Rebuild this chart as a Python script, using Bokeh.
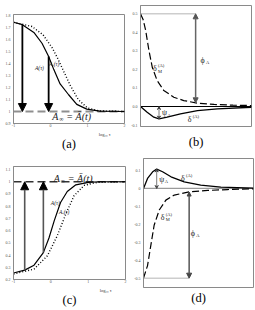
from bokeh.plotting import figure
from bokeh.layouts import column, row
from bokeh.models import Arrow, NormalHead, VeeHead, Label, Range1d, FixedTicker, Title
from bokeh.embed import file_html
from bokeh.resources import INLINE

SERIF = "Liberation Serif"

# ---------------- data ----------------
# panel (a): relaxation of A
tau_a = [-1, -0.76, -0.45, -0.23, -0.05, 0.09, 0.26, 0.49, 0.71, 0.98, 1.33, 2.0]
A_a = [1.745, 1.725, 1.66, 1.57, 1.46, 1.35, 1.23, 1.14, 1.06, 1.02, 1.003, 1.0]
tau_ar_a = [-1, -0.5, -0.2, 0.05, 0.2, 0.35, 0.53, 0.75, 1.0, 1.3, 2.0]
AR_a = [1.745, 1.71, 1.64, 1.53, 1.44, 1.34, 1.22, 1.10, 1.03, 1.005, 1.0]
A_inf_a = 1.0
arrow_x_a = [-0.76, -0.05]
arrow_y_a = [1.725, 1.46]

# panel (c)
tau_c = [-1, -0.7, -0.45, -0.2, -0.05, 0.09, 0.26, 0.44, 0.67, 1.0, 1.33, 2.0]
A_c = [0.253, 0.277, 0.317, 0.42, 0.54, 0.68, 0.83, 0.92, 0.975, 0.995, 1.0, 1.0]
tau_ar_c = [-1, -0.45, -0.09, 0.175, 0.40, 0.62, 0.89, 1.24, 2.0]
AR_c = [0.245, 0.285, 0.395, 0.56, 0.735, 0.885, 0.97, 0.995, 1.0]
A_inf_c = 1.0
arrow_x_c = [-0.7, -0.2]
arrow_y_c = [0.277, 0.42]

# panel (b)
tau_bm = [-1, -0.93, -0.86, -0.77, -0.68, -0.55, -0.37, -0.1, 0.17, 0.54, 0.99, 1.5, 2.0]
dM_b = [0.5, 0.47, 0.41, 0.30, 0.21, 0.14, 0.086, 0.05, 0.032, 0.018, 0.011, 0.007, 0.005]
tau_bd = [-1, -0.82, -0.64, -0.5, -0.28, 0.08, 0.54, 1.08, 2.0]
d_b = [0, -0.031, -0.058, -0.067, -0.058, -0.04, -0.022, -0.013, -0.004]
phi_b = [0.49, 0.5, 0.02]     # x, top, bottom
psi_b = [-0.5, 0.0, -0.067]

# panel (d)
tau_dd = [-1, -0.89, -0.75, -0.64, -0.48, -0.25, 0.11, 0.56, 1.11, 2.0]
d_d = [0, 0.056, 0.093, 0.108, 0.093, 0.065, 0.037, 0.019, 0.007, 0.002]
tau_dm = [-1, -0.89, -0.8, -0.71, -0.57, -0.39, -0.16, 0.25, 0.75, 1.29, 2.0]
dM_d = [-0.5, -0.43, -0.317, -0.205, -0.12, -0.065, -0.037, -0.019, -0.011, -0.006, -0.002]
phi_d = [0.245, -0.02, -0.5]
psi_d = [-0.64, 0.0, 0.108]

x_ticks = [-1, 0, 1, 2]
x_tick_labels = ["-1", "0", "1", "2"]
y_ticks_a = [0.9, 1.0, 1.1, 1.2, 1.3, 1.4, 1.5, 1.6, 1.7, 1.8]
y_ticks_c = [0.2, 0.3, 0.4, 0.5, 0.6, 0.7, 0.8, 0.9, 1.0, 1.1]
y_ticks_b = [-0.1, 0.0, 0.1, 0.2, 0.3, 0.4, 0.5]
y_labels_b = ["-0.1", "0.0", "0.1", "0.2", "0.3", "0.4", "0.5"]
y_ticks_d = [-0.5, -0.4, -0.3, -0.2, -0.1, 0.0, 0.1]
y_labels_d = ["-0.5", "-0.4", "-0.3", "-0.2", "-0.1", "0", "0.1"]
panel_names = ["(a)", "(b)", "(c)", "(d)"]
x_title = "log₁₀ τ"


def make_fig(xr, yr, fw, fh, left, right, top, bottom):
    p = figure(frame_width=fw, frame_height=fh, title=None,
               x_range=Range1d(*xr), y_range=Range1d(*yr),
               output_backend="svg", toolbar_location=None,
               min_border_left=left, min_border_right=right,
               min_border_top=top, min_border_bottom=bottom)
    p.grid.visible = False
    p.outline_line_color = "#8a8a8a"
    p.outline_line_width = 1
    p.background_fill_color = "white"
    p.border_fill_color = "white"
    for ax in p.axis:
        ax.axis_line_color = "#8a8a8a"
        ax.major_tick_line_color = None
        ax.minor_tick_line_color = None
        ax.major_tick_out = 0
        ax.major_tick_in = 0
        ax.major_label_text_font = SERIF
        ax.major_label_text_font_size = "4px"
        ax.major_label_text_color = "#555555"
        ax.major_label_standoff = 3
    return p


def lbl(p, x, y, text, size, italic=True, dx=0, dy=0, color="#222222", align="left", baseline="middle"):
    p.add_layout(Label(x=x, y=y, text=text, x_offset=dx, y_offset=dy,
                       text_font=SERIF, text_font_size=size,
                       text_font_style="italic" if italic else "normal",
                       text_color=color, text_align=align, text_baseline=baseline))


def delta_label(p, x, y, sub=None):
    lbl(p, x, y, "δ", "8px", italic=False)
    lbl(p, x, y, "(A)", "4.5px", italic=False, dx=5, dy=3)
    if sub:
        lbl(p, x, y, sub, "4.5px", italic=False, dx=5, dy=-2.5)


def greek_sub(p, x, y, g):
    lbl(p, x, y, g, "8px", italic=False)
    lbl(p, x, y, "A", "4.5px", italic=False, dx=5.5, dy=-2.5)


def ainf_label(p, x, y):
    lbl(p, x, y, "A", "10px")
    lbl(p, x, y, "∞", "6px", italic=False, dx=7, dy=-2.5)
    lbl(p, x, y, "= Ā(t)", "10px", dx=14)


def axes_lr(p, yt, ylabels=None, show_x=True):
    p.yaxis.ticker = FixedTicker(ticks=yt)
    if ylabels:
        p.yaxis.major_label_overrides = {t: l for t, l in zip(yt, ylabels)}
    if show_x:
        p.xaxis.ticker = FixedTicker(ticks=x_ticks)
        p.xaxis.major_label_overrides = {t: l for t, l in zip(x_ticks, x_tick_labels)}
        p.xaxis.major_label_standoff = 0
    else:
        p.xaxis.visible = False


def bottom_titles(p, name, with_x_title, standoff):
    if with_x_title:
        p.add_layout(Title(text=x_title, align="right", offset=14, standoff=0,
                           text_font=SERIF, text_font_size="4.5px", text_font_style="normal",
                           text_color="#333333"), "below")
    p.add_layout(Title(text=name, align="center", standoff=standoff,
                       text_font=SERIF, text_font_size="12.5px", text_font_style="normal",
                       text_color="black"), "below")


# ---------------- (a) ----------------
pa = make_fig((-1, 2), (0.9, 1.81), 111, 109, 13, 3, 14, 34)
axes_lr(pa, y_ticks_a)
bottom_titles(pa, panel_names[0], True, -3)
pa.line([-1, 2], [A_inf_a, A_inf_a], line_color="#8f8f8f", line_width=2, line_dash="8 4")
pa.line(tau_ar_a, AR_a, line_color="black", line_width=1.4, line_dash="1 2")
pa.line(tau_a, A_a, line_color="black", line_width=1.2)
for xs, ys in zip(arrow_x_a, arrow_y_a):
    pa.add_layout(Arrow(end=NormalHead(size=8, fill_color="black", line_color="black"),
                        x_start=xs, y_start=ys, x_end=xs, y_end=A_inf_a,
                        line_color="black", line_width=1.8))
lbl(pa, -0.04, 1.40, "Aᵣ(τ)", "5.5px")
lbl(pa, -0.42, 1.36, "A(τ)", "5.5px")
ainf_label(pa, 0.05, 0.962)

# ---------------- (b) ----------------
pb = make_fig((-1, 2), (-0.108, 0.545), 111, 121, 13, 4, 5, 31)
axes_lr(pb, y_ticks_b, y_labels_b, show_x=False)
bottom_titles(pb, panel_names[1], False, 12)
pb.line([-1, 2], [0, 0], line_color="black", line_width=1.1)
pb.line([-1, phi_b[0]], [phi_b[1], phi_b[1]], line_color="#444444", line_width=0.8, line_dash="1 1")
pb.line(tau_bm, dM_b, line_color="black", line_width=1.2, line_dash="7 3")
pb.line(tau_bd, d_b, line_color="black", line_width=1.3)
pb.add_layout(Arrow(start=NormalHead(size=5, fill_color="#555555", line_color="#555555"),
                    end=NormalHead(size=5, fill_color="#555555", line_color="#555555"),
                    x_start=phi_b[0], y_start=phi_b[1], x_end=phi_b[0], y_end=phi_b[2],
                    line_color="#666666", line_width=1.5))
pb.add_layout(Arrow(start=VeeHead(size=3, line_color="#444444", fill_color="#444444"),
                    end=VeeHead(size=3, line_color="#444444", fill_color="#444444"),
                    x_start=psi_b[0], y_start=psi_b[1], x_end=psi_b[0], y_end=psi_b[2],
                    line_color="#444444", line_width=0.7))
delta_label(pb, -0.66, 0.203, "M")
greek_sub(pb, 0.62, 0.25, "ϕ")
greek_sub(pb, -0.42, -0.034, "ψ")
delta_label(pb, 0.28, -0.068)

# ---------------- (c) ----------------
pc = make_fig((-1, 2), (0.2, 1.125), 112, 113, 13, 2, 9, 28)
axes_lr(pc, y_ticks_c)
bottom_titles(pc, panel_names[2], True, -3)
pc.line([-1, 2], [A_inf_c, A_inf_c], line_color="#333333", line_width=1.6, line_dash="8 4")
pc.line(tau_ar_c, AR_c, line_color="black", line_width=1.4, line_dash="1 2")
pc.line(tau_c, A_c, line_color="black", line_width=1.2)
for xs, ys in zip(arrow_x_c, arrow_y_c):
    pc.add_layout(Arrow(end=NormalHead(size=8, fill_color="black", line_color="black"),
                        x_start=xs, y_start=ys, x_end=xs, y_end=A_inf_c,
                        line_color="#555555", line_width=1.6))
lbl(pc, 0.0, 0.83, "A(τ)", "5.5px")
lbl(pc, 0.22, 0.756, "Aᵣ(τ)", "5.5px")
ainf_label(pc, 0.08, 1.03)

# ---------------- (d) ----------------
pd_ = make_fig((-1, 2), (-0.552, 0.167), 110, 129, 16, 2, 1, 20)
axes_lr(pd_, y_ticks_d, y_labels_d, show_x=False)
bottom_titles(pd_, panel_names[3], False, 3)
pd_.line([-1, 2], [0, 0], line_color="#9a9a9a", line_width=1.3)
pd_.line([-1, phi_d[0]], [phi_d[2], phi_d[2]], line_color="#444444", line_width=0.8, line_dash="1 1")
pd_.line(tau_dm, dM_d, line_color="black", line_width=1.2, line_dash="7 3")
pd_.line(tau_dd, d_d, line_color="black", line_width=1.3)
pd_.add_layout(Arrow(start=NormalHead(size=4, fill_color="#444444", line_color="#444444"),
                     end=NormalHead(size=5, fill_color="#444444", line_color="#444444"),
                     x_start=phi_d[0], y_start=phi_d[1], x_end=phi_d[0], y_end=phi_d[2],
                     line_color="#555555", line_width=1.5))
pd_.add_layout(Arrow(start=VeeHead(size=3, line_color="#444444", fill_color="#444444"),
                     end=VeeHead(size=3, line_color="#444444", fill_color="#444444"),
                     x_start=psi_d[0], y_start=psi_d[1], x_end=psi_d[0], y_end=psi_d[2],
                     line_color="#444444", line_width=0.7))
delta_label(pd_, 0.02, 0.054)
greek_sub(pd_, -0.57, 0.05, "ψ")
delta_label(pd_, -0.53, -0.16, "M")
greek_sub(pd_, 0.29, -0.25, "ϕ")

layout = column(row(column(pa), column(pb)), row(column(pc), column(pd_)))
open("out.html", "w").write(file_html(layout, INLINE))
